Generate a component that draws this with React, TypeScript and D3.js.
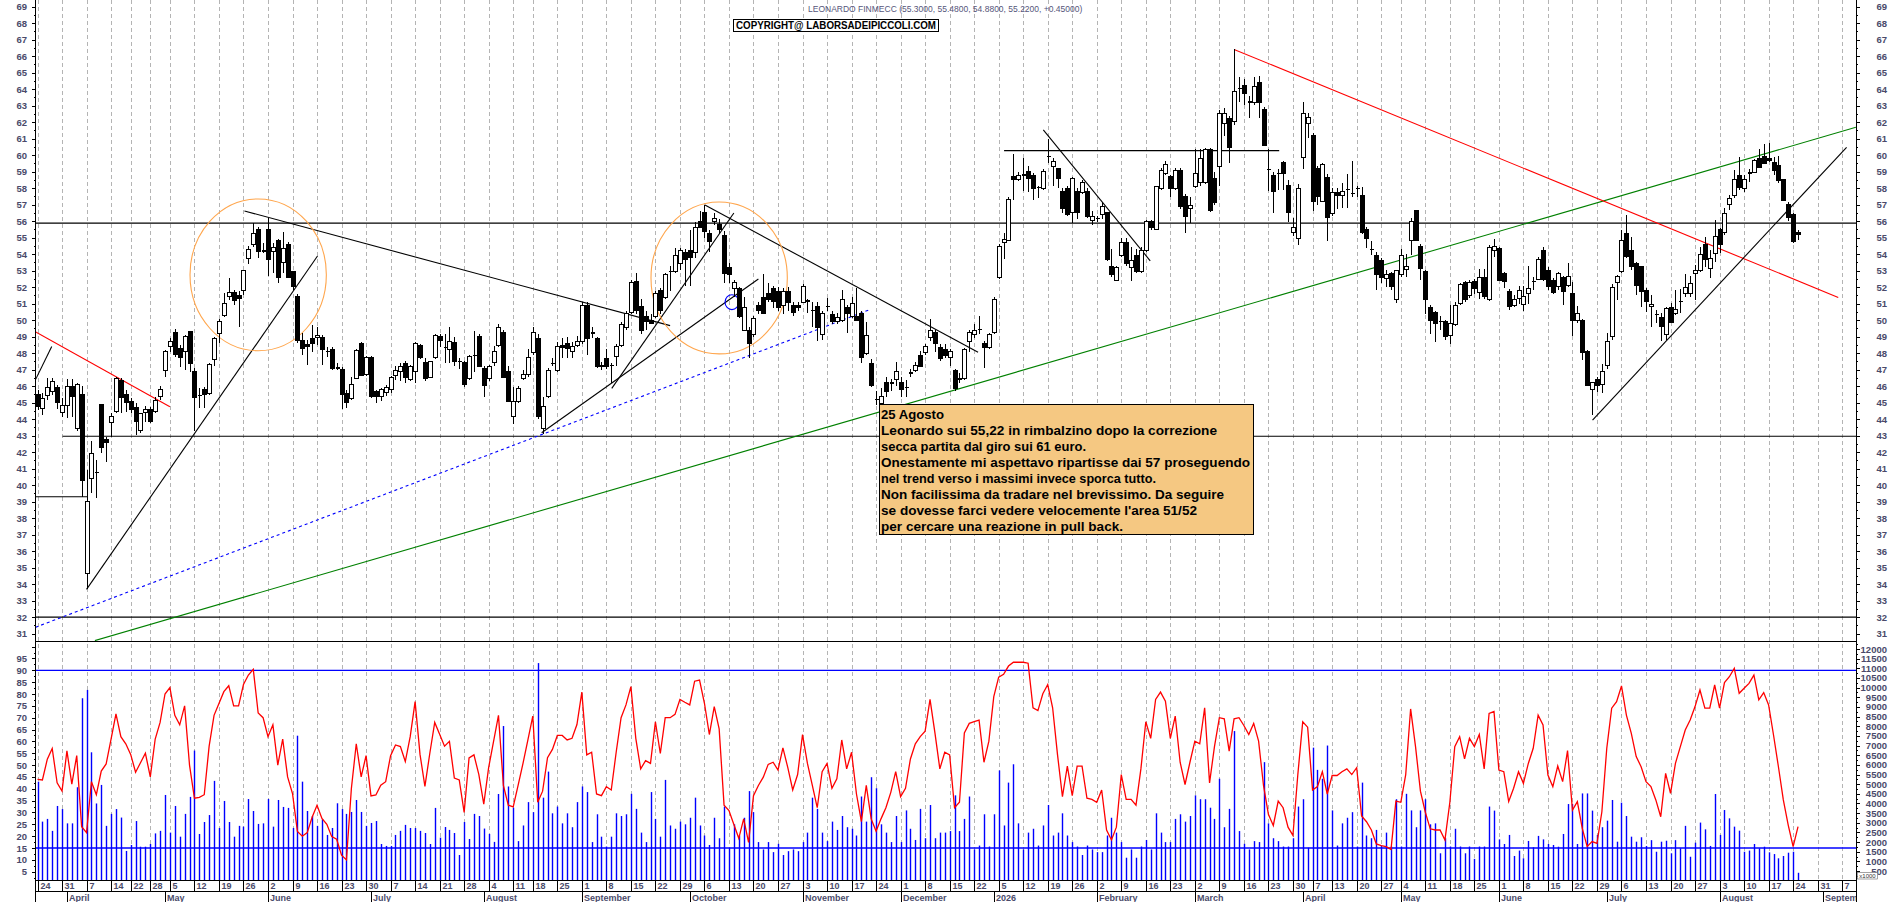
import React, { useEffect, useRef } from 'react';
import * as d3 from 'd3';

// Borsa Italiana closing days inside the plotted range
const holidays = [
  '2025-04-18', '2025-04-21', '2025-05-01', '2025-08-15', '2025-12-24', '2025-12-25',
  '2025-12-26', '2025-12-31', '2026-01-01', '2026-04-03', '2026-04-06', '2026-05-01',
];
const firstDay = '2025-03-24';
const weekSkip = ['2025-12-29'];
const monthNames = ['January', 'February', 'March', 'April', 'May', 'June', 'July', 'August', 'September', 'October', 'November', 'December'];

// daily candles [open, high, low, close]
const candles: number[][] = [
  [45.47,45.77,44.56,44.76],[44.66,45.57,44.25,45.26],[45.41,46.48,45.16,45.93],[45.67,46.48,45.47,46.27],[45.93,46.07,44.6,45.02],
  [44.42,45.26,44.15,44.86],[44.86,46.42,44.1,45.97],[45.97,46.42,44.15,45.37],[43.44,46.17,43.3,46.11],[45.47,46.0,39.27,40.31],
  [34.62,40.9,33.69,39.04],[40.42,42.68,39.5,41.93],[40.7,41.53,39.2,40.75],[44.92,44.95,41.93,42.27],[42.74,42.94,41.43,42.58],
  [43.79,44.4,42.94,44.19],[44.46,46.58,44.4,46.48],[46.37,46.52,44.4,45.33],[45.47,45.77,44.46,45.02],[45.06,45.27,44.4,44.6],
  [44.72,44.96,43.04,43.85],[43.3,44.4,43.19,44.35],[44.4,44.8,43.85,44.6],[44.6,44.76,43.75,43.85],[44.46,45.37,44.4,45.16],
  [45.36,46.01,45.16,45.77],[46.98,48.19,46.54,48.09],[48.4,48.9,48.09,48.7],[49.26,49.45,47.75,47.95],[48.3,48.5,47.18,47.75],
  [48.13,49.1,46.98,49.0],[49.3,49.37,46.88,47.38],[46.88,47.08,43.3,45.33],[45.4,45.87,44.66,45.43],[45.8,45.93,44.66,45.47],
  [45.57,47.38,45.47,47.3],[47.6,49.0,47.23,48.9],[49.2,50.05,48.6,49.9],[50.31,51.63,50.2,51.02],[51.43,52.58,51.2,51.69],
  [51.69,51.83,50.9,51.2],[51.5,51.8,49.6,51.33],[51.77,53.04,51.5,53.0],[53.75,54.5,53.38,54.3],[54.56,55.87,54.46,55.27],
  [55.5,55.67,53.79,54.15],[54.15,54.66,54.1,54.2],[55.47,56.17,52.68,53.65],[54.15,54.66,52.88,54.4],[54.82,54.9,52.28,52.6],
  [53.5,55.37,52.88,54.35],[54.6,54.72,52.54,52.6],[52.94,52.94,51.83,52.03],[51.43,51.6,48.6,48.8],[48.74,49.2,47.9,48.3],
  [48.5,48.8,47.3,48.4],[48.9,49.7,48.1,48.56],[48.96,49.6,48.5,49.1],[48.96,49.1,47.3,48.2],[48.1,48.4,47.8,48.08],
  [48.2,48.4,47.0,47.1],[47.1,47.4,46.98,47.08],[47.02,47.14,44.6,45.47],[45.57,45.8,44.66,45.0],[45.26,46.54,45.16,46.13],
  [46.48,48.23,46.42,48.15],[48.6,48.7,46.6,46.65],[46.72,47.85,46.6,47.72],[47.72,47.85,45.3,45.37],[45.7,45.8,44.96,45.37],
  [45.37,45.9,45.1,45.77],[45.64,46.1,45.4,45.94],[45.77,46.6,45.6,46.55],[46.65,47.2,46.38,46.98],[46.88,47.38,46.3,47.2],
  [47.4,47.55,46.2,46.55],[46.38,47.3,46.3,47.2],[46.88,48.66,46.2,48.56],[48.46,48.56,47.65,47.72],[47.45,47.72,46.3,46.44],
  [46.55,47.48,46.5,47.48],[47.72,49.14,47.65,49.07],[49.0,49.14,48.4,48.8],[48.3,49.14,47.4,48.33],[48.23,49.57,47.4,48.73],
  [48.66,49.0,47.2,47.48],[47.48,47.72,47.05,47.45],[47.45,47.55,45.97,46.1],[46.44,47.89,46.38,47.79],[47.8,49.34,46.88,47.85],
  [49.0,49.14,47.2,47.2],[47.05,47.2,45.37,46.04],[46.44,47.3,46.3,47.2],[47.45,48.46,47.2,48.1],[48.46,49.74,48.4,49.57],
  [49.23,49.4,46.55,46.55],[46.88,47.2,45.03,45.1],[44.19,45.98,43.68,45.1],[45.1,46.0,45.0,45.87],[46.44,47.0,46.38,46.7],
  [46.72,48.23,46.55,47.72],[48.06,49.57,47.9,49.23],[48.9,49.14,44.0,44.19],[43.41,45.37,43.1,44.76],[45.37,47.1,45.3,46.98],
  [47.35,47.72,47.2,47.4],[46.98,48.66,46.88,48.4],[48.46,48.9,47.72,48.33],[48.56,49.0,47.72,48.3],[48.1,48.66,47.72,48.4],
  [48.46,49.07,48.4,48.73],[48.73,51.09,48.56,50.92],[50.92,51.09,47.9,48.9],[49.2,49.57,48.9,49.23],[48.9,49.0,47.1,47.2],
  [47.2,47.45,46.98,47.22],[47.65,48.23,47.05,47.2],[47.2,47.4,46.2,47.25],[47.8,48.56,47.2,48.4],[48.46,49.9,48.4,49.74],
  [49.57,50.58,49.4,50.4],[50.48,52.44,50.4,52.27],[52.37,52.84,50.4,50.58],[50.82,51.26,49.14,49.4],[50.25,50.58,49.4,49.9],
  [50.0,50.4,49.75,49.8],[50.25,51.76,50.15,51.6],[51.83,51.93,50.4,50.58],[51.36,52.84,51.26,52.77],[52.9,53.3,51.76,52.94],
  [52.94,54.4,52.84,53.95],[53.45,54.4,53.04,54.2],[54.12,54.3,52.1,53.7],[54.2,55.47,52.1,53.8],[54.12,55.97,53.79,55.63],
  [55.97,56.64,55.6,55.6],[56.54,56.98,54.96,55.4],[55.27,55.47,54.12,54.8],[55.97,56.47,55.8,56.14],[55.8,56.14,55.2,55.47],
  [55.13,55.4,52.27,52.84],[53.18,53.45,52.27,52.77],[51.93,52.44,51.43,52.27],[51.93,52.03,50.15,50.25],[49.4,51.43,49.4,50.75],
  [49.4,49.57,47.72,48.56],[49.13,50.25,49.0,50.08],[50.92,51.09,50.4,50.58],[51.4,52.77,50.35,50.4],[51.6,52.27,51.09,51.26],
  [51.93,52.1,50.75,51.16],[51.76,52.03,50.58,50.75],[50.92,51.93,50.4,51.76],[51.76,52.03,50.58,51.1],[50.92,51.09,50.25,50.48],
  [50.92,51.09,50.58,50.75],[51.1,52.17,51.02,52.03],[51.15,51.26,50.42,51.16],[50.6,51.09,49.57,50.58],[50.82,51.09,48.73,49.57],
  [49.13,50.58,48.8,50.4],[50.8,51.36,50.58,50.82],[50.35,50.58,49.74,49.9],[49.9,50.42,49.8,50.15],[50.0,51.83,49.9,51.26],
  [50.75,50.92,49.23,50.4],[50.25,51.43,50.15,51.0],[50.25,51.93,50.0,50.0],[50.4,50.58,47.39,47.72],[47.99,49.9,47.9,49.07],
  [47.39,47.65,45.97,46.04],[45.2,45.7,44.86,45.2],[44.96,45.87,44.86,45.37],[46.2,46.54,45.37,45.7],[46.2,46.44,45.7,46.18],
  [46.38,47.45,46.04,46.88],[46.2,46.54,45.37,45.77],[45.87,46.38,45.37,45.9],[46.78,47.05,46.54,46.8],[46.98,47.45,46.88,47.28],
  [47.89,48.13,47.2,47.2],[48.06,48.56,47.9,48.4],[48.97,50.08,48.73,49.4],[49.23,49.4,48.06,48.56],[48.33,48.56,47.55,47.66],
  [48.23,48.56,47.72,47.89],[47.72,48.23,47.2,48.13],[46.98,47.05,45.7,45.87],[46.44,46.78,46.2,46.44],[46.44,48.33,46.38,48.23],
  [48.73,49.4,48.06,49.23],[49.13,49.74,48.9,49.4],[49.4,50.25,49.14,49.42],[48.56,48.73,47.12,48.33],[48.33,49.23,48.23,49.13],
  [49.23,51.43,49.14,51.26],[52.6,54.62,52.5,54.45],[54.7,55.3,53.7,54.9],[54.86,57.49,54.8,57.3],[58.7,60.1,57.3,58.5],
  [58.5,59.0,58.43,58.8],[58.75,59.84,57.82,58.8],[59.0,59.34,57.76,58.6],[58.8,58.9,57.3,58.0],[58.0,58.16,57.42,58.02],
  [58.0,59.17,57.9,59.0],[59.9,61.0,59.5,59.92],[59.34,59.84,58.16,59.6],[59.17,59.24,58.0,58.6],[57.82,57.99,56.47,56.8],
  [57.99,58.16,56.3,56.41],[56.5,58.67,55.9,58.6],[57.82,57.99,56.14,56.5],[57.75,58.5,57.65,58.33],[57.82,57.99,56.21,56.3],
  [56.07,56.64,55.74,56.3],[56.14,56.3,55.97,56.15],[56.41,57.15,56.14,56.88],[56.5,56.54,53.6,53.7],[53.28,54.3,52.6,52.77],
  [52.43,53.28,52.37,53.18],[53.95,54.96,53.84,54.73],[54.73,54.96,53.28,53.45],[53.18,54.46,52.37,53.6],[53.95,54.3,52.84,52.94],
  [52.94,54.46,52.84,54.2],[54.2,56.07,54.12,55.97],[55.97,56.07,55.47,55.63],[55.5,58.16,55.47,58.1],[58.0,59.24,57.9,59.1],
  [58.9,59.67,58.77,59.44],[58.7,58.77,57.49,58.0],[58.0,59.24,57.9,59.1],[59.1,59.24,56.75,56.88],[57.5,57.65,55.3,56.3],
  [56.75,57.49,55.87,56.98],[58.1,60.35,58.0,58.9],[58.33,60.35,58.16,59.77],[58.33,60.45,58.23,60.35],[60.35,60.45,56.54,56.64],
  [58.56,59.0,56.98,57.15],[59.34,62.71,58.16,62.54],[61.93,62.88,61.19,62.54],[62.2,62.37,59.5,60.45],[62.03,66.41,61.86,63.88],
  [64.0,64.72,63.2,64.05],[64.22,64.62,63.04,63.72],[63.2,63.6,62.27,63.22],[63.2,64.72,63.04,64.15],[64.39,64.83,62.27,63.2],
  [62.8,62.94,60.58,60.6],[59.1,60.35,57.82,59.12],[58.77,59.0,56.48,57.82],[58.9,59.17,57.9,58.88],[59.57,59.67,57.9,58.9],
  [58.16,58.5,55.97,56.54],[55.3,56.21,55.13,55.63],[54.96,58.23,54.53,57.99],[59.84,63.2,59.17,62.54],[61.93,62.54,61.02,62.27],
  [61.19,61.36,56.64,57.22],[59.17,59.34,56.98,57.49],[57.22,59.5,57.15,59.44],[58.67,58.84,54.8,56.21],[56.48,57.99,56.3,57.76],
  [57.76,57.99,56.74,57.55],[57.55,58.33,56.81,57.82],[57.88,58.84,56.81,57.9],[57.65,59.67,57.49,57.67],[57.98,58.16,57.49,58.0],
  [57.55,58.1,55.2,55.3],[55.47,55.63,54.4,54.96],[54.3,54.8,53.95,54.28],[53.95,54.12,51.83,52.77],[53.6,53.79,52.27,52.6],
  [52.5,53.04,52.03,52.77],[52.84,52.94,51.83,52.03],[51.26,53.04,51.02,53.04],[52.77,54.3,52.6,53.95],[53.1,54.0,52.6,53.28],
  [54.86,56.21,53.95,55.97],[56.64,56.64,54.8,54.86],[54.46,54.63,52.44,53.11],[52.94,53.04,50.35,51.26],[50.75,50.92,49.14,50.0],
  [50.48,50.58,48.67,49.8],[49.9,50.25,49.4,49.9],[49.9,50.0,48.8,49.0],[49.07,50.92,48.56,49.8],[49.74,51.09,49.67,50.92],
  [51.02,52.27,50.92,52.17],[52.27,52.37,51.09,51.26],[51.5,52.44,51.36,52.27],[52.37,52.5,51.6,51.93],[51.7,53.1,51.26,52.6],
  [52.6,53.1,51.26,51.43],[51.26,54.53,51.16,54.4],[54.2,54.9,53.85,54.46],[54.35,54.46,52.38,52.43],[52.84,52.94,51.93,52.33],
  [51.73,51.87,50.6,50.86],[50.92,51.53,50.82,51.26],[51.33,52.07,51.0,51.83],[50.98,52.1,50.58,51.43],[51.6,53.3,51.0,51.9],
  [52.33,52.64,51.83,52.35],[52.48,53.85,52.44,53.65],[54.25,54.46,52.38,52.48],[53.04,53.24,51.83,52.03],[52.4,52.54,51.6,51.67],
  [52.03,52.94,51.83,52.84],[52.6,52.68,50.9,51.73],[52.13,53.45,52.03,52.64],[51.63,52.33,49.04,50.01],[49.97,50.86,49.81,50.42],
  [50.01,50.1,47.59,48.03],[48.09,48.2,46.01,46.07],[45.77,46.27,44.25,46.21],[46.38,46.54,45.67,46.07],[46.13,47.35,45.6,46.88],
  [47.28,49.2,47.02,48.7],[49.0,52.2,48.8,52.0],[52.27,52.74,51.2,52.64],[52.94,55.46,52.88,54.86],[55.27,56.4,53.79,53.89],
  [54.25,55.06,53.04,53.28],[53.45,53.55,51.53,52.13],[53.24,53.24,50.78,51.73],[51.8,51.93,50.5,51.12],[50.82,51.53,49.6,50.98],
  [50.35,50.62,49.81,50.33],[50.17,50.42,48.76,49.61],[49.16,50.82,48.8,50.72],[50.78,51.06,49.81,49.85],[50.38,51.83,50.32,50.62],
  [51.1,51.9,50.42,51.12],[51.6,52.8,51.4,52.0],[51.63,52.67,51.43,52.23],[52.84,53.35,51.2,53.04],[53.0,54.46,52.94,54.0],
  [54.6,55.02,53.24,53.69],[53.14,54.25,52.54,53.75],[54.05,56.07,53.55,55.06],[55.5,55.57,54.05,54.6],[55.3,56.78,55.16,56.47],
  [57.04,57.58,56.68,57.39],[57.53,59.1,57.38,58.54],[58.8,59.9,57.89,58.05],[57.99,58.8,57.79,58.5],[58.9,59.14,58.4,58.92],
  [58.94,59.74,58.9,59.67],[59.8,60.35,59.2,59.26],[59.9,60.68,59.47,59.5],[59.8,60.76,59.6,59.7],[59.55,59.9,58.8,59.1],
  [59.35,59.94,58.33,58.46],[58.5,58.54,57.24,57.28],[57.04,57.18,56.03,56.23],[56.38,56.47,54.7,54.76],[55.3,55.48,54.88,55.22],
];

// daily volume, thousands of shares
const volumeK = [
  5.13,3.06,3.2,2.58,3.87,3.71,2.97,2.97,4.84,9.45, 9.88,6.65,4.0,4.96,2.84,3.46,3.71,3.27,1.54,1.85,
  3.09,1.76,1.76,1.9,2.45,2.58,4.44,2.49,3.87,2.28, 3.46,4.34,6.74,2.42,3.04,3.4,5.17,2.73,4.13,3.04,
  2.28,2.84,2.8,4.23,3.61,2.94,2.97,4.23,2.8,4.18, 3.82,3.77,2.73,7.51,5.13,3.61,3.35,2.84,3.18,2.37,
  2.73,4.01,3.71,3.46,3.56,4.18,3.56,2.84,2.99,3.09, 1.9,1.8,1.8,2.37,2.58,2.89,2.73,2.73,2.58,2.47,
  1.9,3.77,2.23,2.78,2.63,2.47,1.33,3.04,2.16,3.46, 3.35,2.7,2.42,2.01,4.49,
  8.01,4.88,3.78,2.05,2.86,4.07,3.55,11.27,4.3,5.65, 3.49,3.84,2.97,3.49,2.77,4.07,4.88,4.59,2.0,3.44,
  2.28,1.77,2.28,3.49,3.35,3.44,4.5,3.72,2.49,
  2.0,4.59,3.2,2.28,5.22,2.86,2.69,3.06,2.92,3.26, 4.3,2.86,2.34,1.85,3.26,2.2,3.84,1.71,2.92,2.34,
  3.26,4.64,3.55,2.0,1.62,2.0,1.48,1.91,1.33,1.53, 1.62,1.53,2.0,2.49,4.3,3.72,2.49,2.05,3.06,2.63,
  3.35,2.77,2.69,2.34,4.36,3.06,5.36,4.79,2.92,2.49, 2.0,3.35,2.0,3.64,2.69,2.11,3.72,
  2.2,3.92,2.2,2.49,2.49,2.57,4.42,2.57,3.2,4.36, 1.62,1.82,3.44,1.77,3.44,5.71,2.86,5.08,6.03,2.97,
  1.62,2.49,2.69,1.82,2.86,3.92,2.34,2.49,3.49,2.34, 2.0,1.77,1.33,1.82,1.62,1.48,1.48,2.34,3.26,2.49,
  2.0,1.19,1.62,1.19,1.77,2.11,1.62,3.49,2.49,2.0, 2.0,3.2,3.44,3.06,3.35,4.42,4.22,
  4.22,3.78,3.2,5.28,2.77,3.72,7.75,2.57,1.91,1.62, 2.05,2.0,6.14,2.97,2.2,2.05,1.77,1.77,2.2,3.84,
  4.22,1.71,6.89,5.74,5.28,7.0,3.64,1.82,2.97,3.26, 3.55,1.77,5.08,2.34,2.2,2.63,1.82,2.49,1.77,4.22,
  1.77,4.5,3.64,2.77,3.64,4.22,2.92,2.97,1.42,2.2, 1.77,2.69,1.77,1.42,1.77,1.13,1.77,1.77,3.84,
  3.63,2.14,1.9,2.37,1.28,1.56,1.16,2.06,1.73,2.32, 2.14,1.9,1.85,1.76,2.42,3.97,3.97,1.9,4.52,4.52,
  3.63,2.37,2.77,3.11,4.18,2.02,4.04,3.35,2.28,2.02, 2.25,1.8,2.1,1.5,2.02,2.07,1.42,2.1,1.68,2.84,
  1.24,1.97,3.01,2.66,1.8,4.49,2.37,3.66,3.23,2.8, 2.59,1.5,1.56,1.9,1.68,1.76,1.47,1.38,1.16,1.28,
  1.45,1.5,0.41,
];

// oscillator (red line, left scale)
const oscillator = [
  44,43.7,52.5,57,42.5,39,56,42,54,24, 21.5,43,37.5,47.5,50.5,61,71.6,62,59,54.5,
  47,51,55,45,61,68,80,82.7,71,67, 75,50,36,36.4,37.5,58,71,76,81,83.5,
  75,75,84,88,90.4,72,70,62,67,50, 61,45,38,22,20,21.5,28,33,27.5,25,
  19.8,18.7,12,10,40,59,45,54,37,37.4, 41.5,43,54,58.5,57.8,51.5,62,76.8,54.5,41,
  55,68,63,58,60,44.5,43.7,30,53,54.3, 46,33.5,49,60,71,
  41.4,33.1,32.4,41.4,50.7,60.6,70.7,34.3,39,53.1, 56.6,62.5,62.5,60.6,61.3,67.1,80.8,54.3,55.4,37.8,
  37.1,40.9,39.5,55.4,70,75.4,83.1,61.3,48.4,
  51.9,50.7,68.3,54.9,70,70,71.4,77.7,76.5,75.4, 85.4,85.9,76.1,62.9,74.7,65.3,33.1,30.8,24.9,19.1,
  27.3,17.4,37.1,41.4,44.9,50.3,51.2,47.9,57.3,48.9, 39.5,46,62.9,50.7,41.4,32,47.2,50.7,40.2,44.2,
  60.6,48.4,55.4,37.8,26.1,41.4,27.3,22.1,27.3,32, 38.5,47.2,36.7,40.2,52.6,59,62,
  64.3,77.7,63.6,48.4,55.4,54.3,32,34.3,63.6,67.6, 68.3,69,51.2,60.1,78.9,87.1,88.3,91.8,93.4,93.4,
  93.4,93,74.2,73,80.1,84,74.2,54.3,36.7,49.6, 37.1,49.6,49.6,36,35.5,34.3,39.5,22.6,18.4,23.8,
  46,35.5,35.5,33.1,48.4,68.3,61.3,77.7,80.8,77, 61.3,70.7,51.2,41.8,51.2,60.1,59,
  74.2,42.5,57.8,70,69.5,55.9,69.5,70,66.7,62.9, 67.6,60.1,41.4,29.2,24.5,34.8,32,23.8,20.3,46,
  68.3,66,39.5,40.9,47.2,37.8,45.6,45.6,47.2,48.4, 46,48.9,28.5,26.1,22.6,16.7,16,15.6,14.4,34.8,
  34.3,46,73.7,57.8,39,30.1,23.1,22.6,22.6,18.4, 34.3,57.8,62,52.6,61.3,57.8,62.9,48.4,71.8,
  72.6,47.9,47.2,34.6,40.2,47.2,42.3,50.7,57.1,71.1, 66.9,45.8,40.9,49.6,43,56.1,31,34.6,23.3,15.6,
  17.7,17,30.3,57.1,74,76.8,83.4,71.1,63.4,53.6, 49.3,43,40.9,35.3,28.2,46.5,38.1,50.7,57.8,64.8,
  69,74.7,81.7,74,74,83.8,74,84.8,87.3,90.8, 80.3,82.4,84.5,88,77.5,80.6,75.4,62.7,49.3,35.3,
  24.7,15.6,24,
];

// drawn studies: [dayIndex, price] -> [dayIndex, price]
const priceLevels = [55.88, 32];
const trendLines: { a: number[]; b: number[]; color: string; dash?: string }[] = [
  { a: [5.1, 42.97], b: [372, 42.97], color: '#000' },
  { a: [-1, 39.3], b: [10.2, 39.3], color: '#000' },
  { a: [-0.4, 46.4], b: [2.9, 48.4], color: '#000' },
  { a: [-0.4, 49.3], b: [27.0, 44.76], color: '#ff0000' },
  { a: [10.0, 33.69], b: [57.1, 53.89], color: '#000' },
  { a: [42.2, 56.62], b: [129.0, 49.67], color: '#000' },
  { a: [102.8, 43.18], b: [147.0, 52.5], color: '#000' },
  { a: [117.1, 45.87], b: [142.0, 56.5], color: '#000' },
  { a: [-0.4, 31.39], b: [169.8, 50.65], color: '#0000ff', dash: '3,3' },
  { a: [11.7, 30.58], b: [370.8, 61.69], color: '#008000' },
  { a: [136.1, 56.98], b: [191.8, 48.06], color: '#000' },
  { a: [205.1, 61.53], b: [226.9, 53.6], color: '#000' },
  { a: [197.1, 60.28], b: [253.2, 60.28], color: '#000' },
  { a: [244.0, 66.41], b: [367.2, 51.38], color: '#ff0000' },
  { a: [317.1, 43.95], b: [368.9, 60.48], color: '#000' },
];
// ellipses: centre [dayIndex, price], radii in days / price units
const ellipses = [
  { c: [45.0, 52.75], rd: 13.9, rp: 4.6, color: '#ffa64d' },
  { c: [139.0, 52.56], rd: 13.9, rp: 4.6, color: '#ffa64d' },
  { c: [141.6, 51.09], rd: 1.4, rp: 0.45, color: '#0000ff' },
];
const oscLevels = [90, 15];

const title = 'LEONARDO FINMECC (55.3000, 55.4800, 54.8800, 55.2200, +0.45000)';
const copyright = 'COPYRIGHT@ LABORSADEIPICCOLI.COM';
const noteLines = [
  '25 Agosto',
  'Leonardo sui 55,22 in rimbalzino dopo la correzione',
  'secca partita dal giro sui 61 euro.',
  'Onestamente mi aspettavo ripartisse dai 57 proseguendo',
  'nel trend verso i massimi invece sporca tutto.',
  'Non facilissima da tradare nel brevissimo. Da seguire',
  "se dovesse farci vedere velocemente l'area 51/52",
  'per cercare una reazione in pull back.',
];
const noteWidths = [63, 336, 205, 369, 275, 343, 316, 242];

const FONT = "'Liberation Sans', Arial, sans-serif";

const App: React.FC = () => {
  const ref = useRef<SVGSVGElement>(null);

  useEffect(() => {
    if (!ref.current) return;
    document.body.style.margin = '0';
    const svg = d3.select(ref.current);
    svg.selectAll('*').remove();

    const axL = 36, axR = 1856;
    const priceBottom = 641, lowBottom = 880;

    // trading calendar
    const days: Date[] = [];
    const d = new Date(firstDay + 'T00:00:00Z');
    while (days.length < 376) {
      const iso = d.toISOString().slice(0, 10);
      const dow = d.getUTCDay();
      if (dow !== 0 && dow !== 6 && !holidays.includes(iso)) days.push(new Date(d));
      d.setUTCDate(d.getUTCDate() + 1);
    }

    const x = d3.scaleLinear().domain([0, 358]).range([37.5, 37.5 + 358 * 4.904]);
    const yP = d3.scaleLinear().domain([69, 32]).range([6.7, 617.2]);
    const yR = d3.scaleLinear().domain([70, 5]).range([717.7, 871.7]);
    const yV = d3.scaleLinear().domain([0, 12]).range([880.7, 649]);

    const defs = svg.append('defs');
    defs.append('clipPath').attr('id', 'clipP').append('rect')
      .attr('x', axL).attr('y', 0).attr('width', axR - axL).attr('height', priceBottom);
    defs.append('clipPath').attr('id', 'clipL').append('rect')
      .attr('x', axL).attr('y', priceBottom).attr('width', axR - axL).attr('height', lowBottom - priceBottom);
    defs.append('clipPath').attr('id', 'clipB').append('rect')
      .attr('x', axL).attr('y', 0).attr('width', axR - axL).attr('height', 902);

    svg.append('rect').attr('width', 1890).attr('height', 902).attr('fill', '#fff');

    // week / month ticks
    const weekKey = (dt: Date) => Math.floor((dt.getTime() / 86400000 + 3) / 7);
    const weekTicks: number[] = [];
    const monthTicks: number[] = [];
    days.forEach((dt, i) => {
      if (x(i) > axR) return;
      const iso = dt.toISOString().slice(0, 10);
      if ((i === 0 || weekKey(dt) !== weekKey(days[i - 1])) && !weekSkip.includes(iso)) weekTicks.push(i);
      if (i > 0 && dt.getUTCMonth() !== days[i - 1].getUTCMonth()) monthTicks.push(i);
    });

    const grid = svg.append('g').attr('stroke', '#b4b4b4').attr('stroke-dasharray', '4,3');
    weekTicks.forEach(i => {
      const gx = Math.round(x(i)) + 0.5;
      grid.append('line').attr('x1', gx).attr('x2', gx).attr('y1', 0).attr('y2', lowBottom);
    });

    // ---------- price panel ----------
    const pp = svg.append('g').attr('clip-path', 'url(#clipP)');
    priceLevels.forEach(p => {
      pp.append('line').attr('x1', axL).attr('x2', axR).attr('y1', yP(p)).attr('y2', yP(p))
        .attr('stroke', '#000').attr('stroke-width', 1.2);
    });
    trendLines.forEach(t => {
      pp.append('line')
        .attr('x1', x(t.a[0])).attr('y1', yP(t.a[1]))
        .attr('x2', x(t.b[0])).attr('y2', yP(t.b[1]))
        .attr('stroke', t.color).attr('stroke-width', 1.1)
        .attr('stroke-dasharray', t.dash || null);
    });
    ellipses.forEach(e => {
      pp.append('ellipse')
        .attr('cx', x(e.c[0])).attr('cy', yP(e.c[1]))
        .attr('rx', x(e.rd) - x(0)).attr('ry', yP(e.c[1] - e.rp) - yP(e.c[1]))
        .attr('fill', 'none').attr('stroke', e.color).attr('stroke-width', 1.1);
    });

    const cg = pp.append('g').attr('shape-rendering', 'crispEdges');
    const bw = 3.6;
    candles.forEach((c, i) => {
      const [o, h, l, cl] = c;
      const cx = x(i);
      const wx = Math.round(cx) + 0.5;
      cg.append('line').attr('x1', wx).attr('x2', wx).attr('y1', yP(h)).attr('y2', yP(l))
        .attr('stroke', '#000').attr('stroke-width', 1);
      const top = yP(Math.max(o, cl));
      const bh = Math.max(Math.abs(yP(o) - yP(cl)), 1);
      const up = cl >= o;
      if (bh <= 1.2) {
        cg.append('line').attr('x1', wx - 2).attr('x2', wx + 2).attr('y1', top).attr('y2', top)
          .attr('stroke', '#000').attr('stroke-width', 1.2);
      } else {
        cg.append('rect').attr('x', wx - bw / 2).attr('y', top).attr('width', bw).attr('height', bh)
          .attr('fill', up ? '#fff' : '#000').attr('stroke', '#000').attr('stroke-width', 1);
      }
    });

    // note box
    const nb = svg.append('g');
    nb.append('rect').attr('x', 879.5).attr('y', 404.5).attr('width', 374).attr('height', 130)
      .attr('fill', '#f5c882').attr('stroke', '#000').attr('stroke-width', 1);
    noteLines.forEach((t, k) => {
      nb.append('text').attr('x', 881).attr('y', 419 + k * 16)
        .attr('font-family', FONT).attr('font-size', 13.5).attr('font-weight', 'bold').attr('fill', '#000')
        .attr('textLength', noteWidths[k]).attr('lengthAdjust', 'spacingAndGlyphs')
        .text(t);
    });

    // ---------- lower panel ----------
    const lp = svg.append('g').attr('clip-path', 'url(#clipL)');
    volumeK.forEach((v, i) => {
      lp.append('rect').attr('x', Math.round(x(i)) - 0.2).attr('y', yV(v))
        .attr('width', 1.4).attr('height', lowBottom - yV(v)).attr('fill', '#0000ff');
    });
    oscLevels.forEach(v => {
      lp.append('line').attr('x1', axL).attr('x2', axR).attr('y1', yR(v)).attr('y2', yR(v))
        .attr('stroke', '#0000ff').attr('stroke-width', 1.3);
    });
    const line = d3.line<number>().x((_, i) => x(i)).y(v => yR(v));
    lp.append('path').attr('d', line(oscillator) || '').attr('fill', 'none')
      .attr('stroke', '#ff0000').attr('stroke-width', 1.3);

    // ---------- frame & axes ----------
    const fr = svg.append('g').attr('stroke', '#000').attr('shape-rendering', 'crispEdges');
    fr.append('line').attr('x1', axL - 0.5).attr('x2', axL - 0.5).attr('y1', 0).attr('y2', 902);
    fr.append('line').attr('x1', axR + 0.5).attr('x2', axR + 0.5).attr('y1', 0).attr('y2', 902);
    fr.append('line').attr('x1', axL).attr('x2', axR).attr('y1', priceBottom + 0.5).attr('y2', priceBottom + 0.5).attr('stroke-width', 1.3);
    fr.append('line').attr('x1', axL).attr('x2', axR).attr('y1', lowBottom + 0.5).attr('y2', lowBottom + 0.5).attr('stroke-width', 1.3);
    fr.append('line').attr('x1', axL).attr('x2', axR).attr('y1', 891.5).attr('y2', 891.5);

    const lab = svg.append('g').attr('font-family', FONT).attr('font-size', 9.5)
      .attr('font-weight', 'bold').attr('fill', '#4a4a6a');
    // price ticks
    for (let p = 30.5; p <= 69.6; p += 0.5) {
      const ty = Math.round(yP(p)) + 0.5;
      if (ty > priceBottom - 1) continue;
      const major = Math.abs(p - Math.round(p)) < 0.01;
      const len = major ? 4 : 2;
      fr.append('line').attr('x1', axL - len).attr('x2', axL).attr('y1', ty).attr('y2', ty);
      fr.append('line').attr('x1', axR).attr('x2', axR + len).attr('y1', ty).attr('y2', ty);
      if (major && p >= 31) {
        lab.append('text').attr('x', 27).attr('y', yP(p) + 3.5).attr('text-anchor', 'end').text(String(p));
        lab.append('text').attr('x', 1887).attr('y', yP(p) + 3.5).attr('text-anchor', 'end').text(String(p));
      }
    }
    // oscillator ticks (left)
    for (let v = 2.5; v <= 100; v += 2.5) {
      const ty = Math.round(yR(v)) + 0.5;
      if (ty < priceBottom + 2 || ty > lowBottom - 1) continue;
      const major = v % 5 === 0;
      fr.append('line').attr('x1', axL - (major ? 4 : 2)).attr('x2', axL).attr('y1', ty).attr('y2', ty);
      if (major && v <= 95) lab.append('text').attr('x', 27).attr('y', yR(v) + 3.5).attr('text-anchor', 'end').text(String(v));
    }
    // volume ticks (right)
    for (let v = 0.25; v <= 12.5; v += 0.25) {
      const ty = Math.round(yV(v)) + 0.5;
      if (ty < priceBottom + 2 || ty > lowBottom - 1) continue;
      const major = Math.abs(v * 2 - Math.round(v * 2)) < 0.01;
      fr.append('line').attr('x1', axR).attr('x2', axR + (major ? 4 : 2)).attr('y1', ty).attr('y2', ty);
      if (major && v <= 12) lab.append('text').attr('x', 1887).attr('y', yV(v) + 3.5).attr('text-anchor', 'end').text(String(Math.round(v * 1000)));
    }
    svg.append('rect').attr('x', 1857.5).attr('y', 872.5).attr('width', 20).attr('height', 6.5)
      .attr('fill', '#fff').attr('stroke', '#666').attr('stroke-width', 0.6);
    svg.append('text').attr('x', 1867.5).attr('y', 878).attr('text-anchor', 'middle')
      .attr('font-family', FONT).attr('font-size', 6).attr('fill', '#333').text('x1000');

    // date axis
    const dg = svg.append('g').attr('clip-path', 'url(#clipB)');
    weekTicks.forEach(i => {
      const gx = Math.round(x(i)) + 0.5;
      dg.append('line').attr('x1', gx).attr('x2', gx).attr('y1', lowBottom).attr('y2', 891)
        .attr('stroke', '#000').attr('shape-rendering', 'crispEdges');
      dg.append('text').attr('x', gx + 2).attr('y', 889).attr('font-family', FONT).attr('font-size', 9)
        .attr('font-weight', 'bold').attr('fill', '#4a4a6a').text(String(days[i].getUTCDate()));
    });
    monthTicks.forEach(i => {
      const gx = Math.round(x(i)) + 0.5;
      const m = days[i].getUTCMonth();
      dg.append('line').attr('x1', gx).attr('x2', gx).attr('y1', 891).attr('y2', 902)
        .attr('stroke', '#000').attr('shape-rendering', 'crispEdges');
      dg.append('text').attr('x', gx + 1.5).attr('y', 900.5).attr('font-family', FONT).attr('font-size', 9)
        .attr('font-weight', 'bold').attr('fill', '#4a4a6a')
        .text(m === 0 ? String(days[i].getUTCFullYear()) : monthNames[m]);
    });

    // title and copyright
    svg.append('text').attr('x', 808).attr('y', 11.5).attr('font-family', FONT).attr('font-size', 8.5)
      .attr('fill', '#55557a').text(title);
    svg.append('rect').attr('x', 733.5).attr('y', 19.5).attr('width', 205).attr('height', 12)
      .attr('fill', '#fff').attr('stroke', '#000').attr('stroke-width', 1);
    svg.append('text').attr('x', 836).attr('y', 29).attr('text-anchor', 'middle').attr('font-family', FONT)
      .attr('font-size', 10.5).attr('font-weight', 'bold').attr('fill', '#000')
      .attr('textLength', 200).attr('lengthAdjust', 'spacingAndGlyphs').text(copyright);
  }, []);

  return <svg ref={ref} width={1890} height={902} style={{ display: 'block' }} />;
};

export default App;
